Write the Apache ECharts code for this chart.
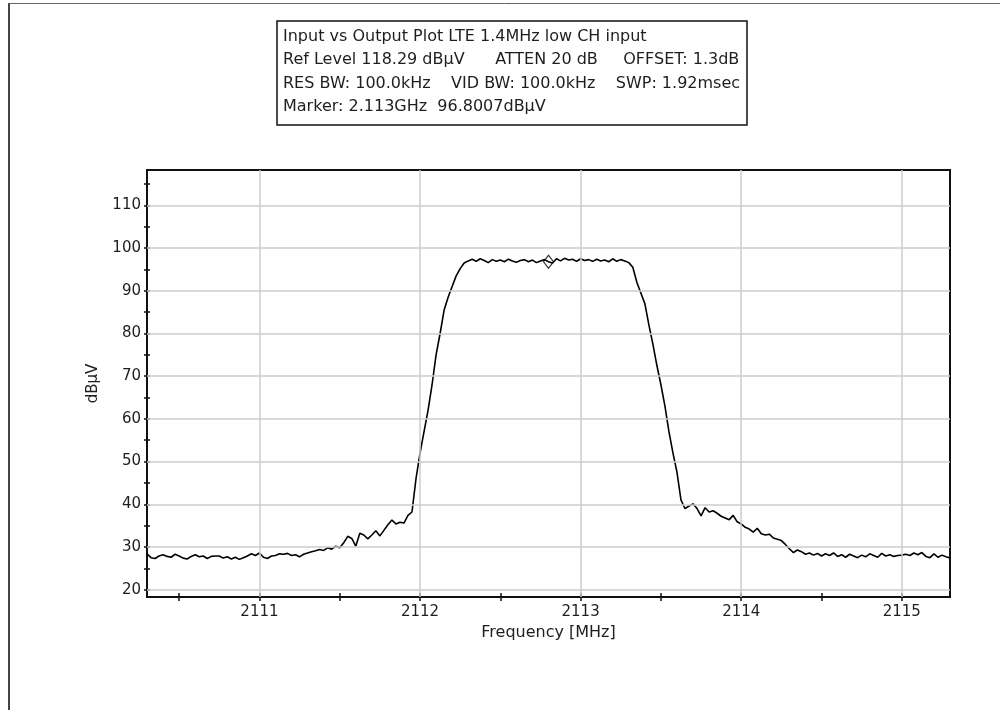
<!DOCTYPE html>
<html>
<head>
<meta charset="utf-8">
<title>Input vs Output Plot LTE 1.4MHz low CH input</title>
<script src="https://cdn.jsdelivr.net/npm/echarts@6/dist/echarts.min.js"></script>
<style>
  html, body { margin: 0; padding: 0; background: #ffffff; }
  #chart { width: 1000px; height: 710px; }
</style>
</head>
<body>
<div id="chart"></div>
<script>
// Sweep settings (span 5 MHz around 2112.8 MHz)
const sweepStartMHz = 2110.3;
const sweepStepMHz = 0.025;

// Measured level of each sweep point, dBµV
const levelDbuv = [
  28.4, 27.5, 27.3, 27.9, 28.2, 27.8, 27.6, 28.3, 27.9, 27.4,
  27.2, 27.8, 28.2, 27.7, 27.9, 27.3, 27.8, 27.9, 27.9, 27.4,
  27.7, 27.2, 27.6, 27.1, 27.5, 27.9, 28.4, 28.0, 28.6, 27.6,
  27.3, 27.9, 28.0, 28.4, 28.3, 28.5, 28.0, 28.2, 27.7, 28.3,
  28.6, 28.9, 29.1, 29.4, 29.2, 29.8, 29.5, 30.2, 29.8, 31.0,
  32.5, 32.0, 30.2, 33.2, 32.8, 31.9, 32.8, 33.8, 32.6, 33.9,
  35.2, 36.3, 35.4, 35.8, 35.6, 37.4, 38.2, 46.0, 52.0, 57.0,
  62.0, 68.0, 75.0, 80.0, 85.5, 88.5, 91.0, 93.5, 95.2, 96.5,
  97.0, 97.4, 96.9, 97.5, 97.1, 96.6, 97.3, 96.9, 97.2, 96.8,
  97.4, 97.0, 96.7, 97.1, 97.3, 96.8, 97.2, 96.6, 97.0, 97.3,
  96.8, 96.5, 97.5, 97.0, 97.6, 97.2, 97.4, 96.9, 97.5, 97.1,
  97.3, 96.9, 97.4, 97.0, 97.2, 96.8, 97.5, 96.9, 97.3, 97.0,
  96.6, 95.5, 92.0, 89.5, 87.0, 82.0, 77.5, 72.5, 68.0, 63.0,
  57.0, 52.0, 47.5, 41.0, 39.0, 39.6, 40.1, 39.0, 37.3, 39.2,
  38.2, 38.5, 37.9, 37.2, 36.8, 36.4, 37.4, 35.9, 35.4, 34.6,
  34.2, 33.5, 34.4, 33.1, 32.8, 33.0, 32.1, 31.8, 31.5, 30.6,
  29.6, 28.7, 29.3, 28.9, 28.3, 28.6, 28.1, 28.5, 27.9, 28.4,
  28.0, 28.6, 27.8, 28.2, 27.6, 28.3, 27.9, 27.5, 28.1, 27.7,
  28.4, 28.0, 27.6, 28.5, 27.9, 28.2, 27.8, 28.0, 28.1, 28.3,
  28.0, 28.6, 28.2, 28.7, 27.8, 27.5, 28.4, 27.6, 28.1, 27.7,
  27.4
];

// Marker readout
const markerFreqMHz = 2112.8;
const markerLevel = 96.8007;

// Axis range: reference level 118.29 dBµV, 10 dB/div
const yRange = [18.29, 118.29];
const xRange = [2110.3, 2115.3];

// Ticks and labels
const yTickValues = [20, 25, 30, 35, 40, 45, 50, 55, 60, 65, 70, 75, 80, 85, 90, 95, 100, 105, 110, 115];
const yLabelValues = [20, 30, 40, 50, 60, 70, 80, 90, 100, 110];
const xTickValues = [2110.5, 2111, 2111.5, 2112, 2112.5, 2113, 2113.5, 2114, 2114.5, 2115];
const xLabelValues = [2111, 2112, 2113, 2114, 2115];

// Header box text
const infoLines = [
  'Input vs Output Plot LTE 1.4MHz low CH input',
  'Ref Level 118.29 dBµV      ATTEN 20 dB     OFFSET: 1.3dB',
  'RES BW: 100.0kHz    VID BW: 100.0kHz    SWP: 1.92msec',
  'Marker: 2.113GHz  96.8007dBµV'
];

const axisTitleX = 'Frequency [MHz]';
const axisTitleY = 'dBµV';

const FONT = '"DejaVu Sans", Verdana, sans-serif';
const TEXT_COLOR = '#1e1e1e';
const GRID_COLOR = '#cccccc';

const tracePoints = levelDbuv.map((v, i) => [sweepStartMHz + i * sweepStepMHz, v]);

const chart = echarts.init(document.getElementById('chart'), null, { renderer: 'canvas' });

const tickLine = { color: '#111', width: 1.5 };

const option = {
  backgroundColor: '#ffffff',
  animation: false,
  grid: {
    left: 147, right: 50, top: 170, bottom: 113,
    show: true, borderColor: '#111', borderWidth: 2, backgroundColor: 'transparent'
  },
  xAxis: [
    {
      type: 'value', min: xRange[0], max: xRange[1], position: 'bottom',
      name: axisTitleX, nameLocation: 'middle', nameGap: 27,
      nameTextStyle: { fontFamily: FONT, fontSize: 16, color: TEXT_COLOR },
      axisLine: { show: true, lineStyle: { color: '#111', width: 2 } },
      axisTick: { show: true, inside: false, length: 4, lineStyle: tickLine, customValues: xTickValues },
      axisLabel: {
        show: true, customValues: xLabelValues, margin: 8,
        fontFamily: FONT, fontSize: 15, color: TEXT_COLOR,
        formatter: v => String(Math.round(v))
      },
      splitLine: { show: false }
    },
    {
      type: 'value', min: xRange[0], max: xRange[1], position: 'bottom',
      axisLine: { show: false },
      axisTick: { show: true, inside: true, length: 4, lineStyle: tickLine, customValues: xTickValues },
      axisLabel: { show: false },
      splitLine: { show: false }
    }
  ],
  yAxis: [
    {
      type: 'value', min: yRange[0], max: yRange[1], position: 'left',
      name: axisTitleY, nameLocation: 'middle', nameGap: 46, nameRotate: 90,
      nameTextStyle: { fontFamily: FONT, fontSize: 15, color: TEXT_COLOR },
      axisLine: { show: true, lineStyle: { color: '#111', width: 2 } },
      axisTick: { show: true, inside: false, length: 3, lineStyle: tickLine, customValues: yTickValues },
      axisLabel: {
        show: true, customValues: yLabelValues, margin: 6,
        fontFamily: FONT, fontSize: 15, color: TEXT_COLOR,
        formatter: v => String(Math.round(v))
      },
      splitLine: { show: false }
    },
    {
      type: 'value', min: yRange[0], max: yRange[1], position: 'left',
      axisLine: { show: false },
      axisTick: { show: true, inside: true, length: 3, lineStyle: tickLine, customValues: yTickValues },
      axisLabel: { show: false },
      splitLine: { show: false }
    }
  ],
  series: [
    {
      // Major division grid lines
      name: 'grid', type: 'line', data: [], z: 1, silent: true,
      markLine: {
        silent: true, symbol: ['none', 'none'], animation: false,
        label: { show: false },
        lineStyle: { color: GRID_COLOR, width: 1.5, type: 'solid' },
        emphasis: { disabled: true },
        data: [
          ...xLabelValues.map(v => ({ xAxis: v })),
          ...yLabelValues.map(v => ({ yAxis: v }))
        ]
      }
    },
    {
      name: 'trace', type: 'line', data: tracePoints, z: 3,
      showSymbol: false, symbol: 'none', smooth: false,
      lineStyle: { color: '#000', width: 1.6 },
      emphasis: { disabled: true }
    },
    {
      name: 'marker', type: 'scatter', data: [[markerFreqMHz, markerLevel]], z: 4,
      symbol: 'diamond', symbolSize: [10, 13],
      itemStyle: { color: 'rgba(255,255,255,0)', borderColor: '#000', borderWidth: 1.2 },
      emphasis: { disabled: true }
    }
  ],
  graphic: [
    // outer frame
    { type: 'line', z: 10, shape: { x1: 9, y1: 3, x2: 9, y2: 710 }, style: { stroke: '#444', lineWidth: 2 } },
    { type: 'line', z: 10, shape: { x1: 9, y1: 3.5, x2: 1000, y2: 3.5 }, style: { stroke: '#666', lineWidth: 1 } },
    // header box
    { type: 'rect', z: 10, shape: { x: 277, y: 21, width: 470, height: 104 }, style: { fill: '#fff', stroke: '#111', lineWidth: 1.5 } },
    ...infoLines.map((t, i) => ({
      type: 'text', z: 11, x: 283, y: 37 + i * 23.3,
      style: { text: t, fontFamily: FONT, fontSize: 16, fill: TEXT_COLOR, verticalAlign: 'middle', align: 'left' }
    }))
  ]
};

chart.setOption(option);
</script>
</body>
</html>
